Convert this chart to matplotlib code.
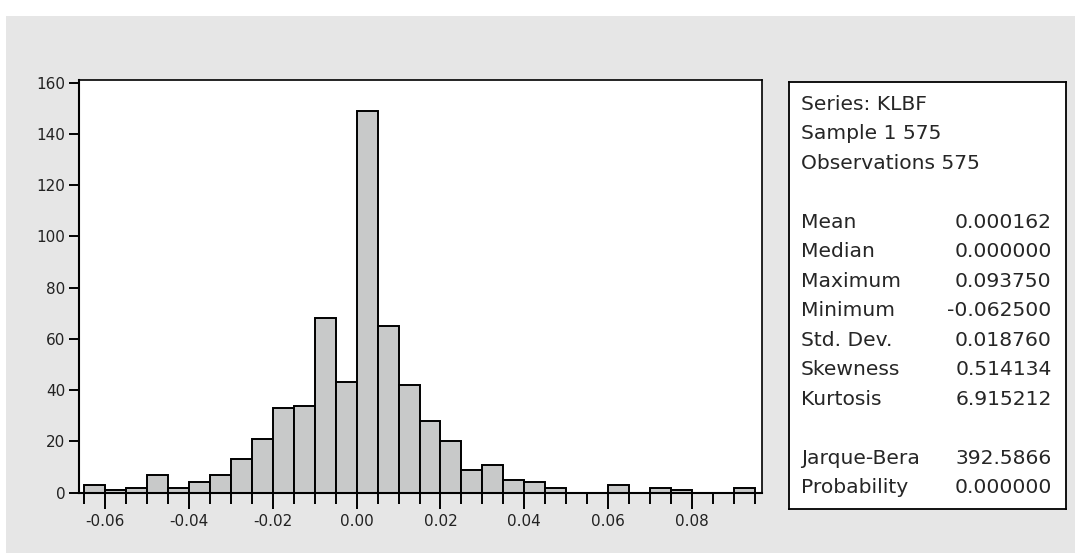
import matplotlib
matplotlib.use("Agg")
import matplotlib.pyplot as plt
from matplotlib.ticker import FixedLocator
from matplotlib.patches import Rectangle

# ---- data -------------------------------------------------------------
bin_left = [-0.065, -0.060, -0.055, -0.050, -0.045, -0.040, -0.035, -0.030,
            -0.025, -0.020, -0.015, -0.010, -0.005, 0.000, 0.005, 0.010,
            0.015, 0.020, 0.025, 0.030, 0.035, 0.040, 0.045, 0.050,
            0.055, 0.060, 0.065, 0.070, 0.075, 0.080, 0.085, 0.090]
counts = [3, 1, 2, 7, 2, 4, 7, 13,
          21, 33, 34, 68, 43, 149, 65, 42,
          28, 20, 9, 11, 5, 4, 2, 0,
          0, 3, 0, 2, 1, 0, 0, 2]
bin_width = 0.005
bin_edges = bin_left + [0.095]

x_major = [-0.06, -0.04, -0.02, 0.00, 0.02, 0.04, 0.06, 0.08]
x_major_labels = ["-0.06", "-0.04", "-0.02", "0.00", "0.02", "0.04", "0.06", "0.08"]
y_ticks = [0, 20, 40, 60, 80, 100, 120, 140, 160]

header_lines = ["Series: KLBF", "Sample 1 575", "Observations 575"]
stat_names = ["Mean", "Median", "Maximum", "Minimum", "Std. Dev.", "Skewness", "Kurtosis"]
stat_values = ["0.000162", "0.000000", "0.093750", "-0.062500", "0.018760", "0.514134", "6.915212"]
test_names = ["Jarque-Bera", "Probability"]
test_values = ["392.5866", "0.000000"]

# ---- figure -----------------------------------------------------------
W, H = 1075, 553
fig = plt.figure(figsize=(W / 100, H / 100), dpi=100)
fig.patch.set_facecolor("white")

def fx(px):
    return px / W

def fy(py):
    return 1 - py / H

# grey panel behind the chart (white margin at top and left)
fig.patches.append(Rectangle((fx(6), 0), 1 - fx(6), fy(16), transform=fig.transFigure,
                             facecolor="#e6e6e6", edgecolor="none", zorder=-10))

ax = fig.add_axes([fx(79.3), fy(492.7), fx(762.3) - fx(79.3), fy(80) - fy(492.7)])
ax.set_zorder(1)
ax.set_facecolor("white")
ax.bar(bin_left, counts, width=bin_width, align="edge",
       color="#c8c9c9", edgecolor="black", linewidth=1.4, zorder=2)

ax.set_xlim(-0.06624, 0.09686)
ax.set_ylim(0, 161)

ax.xaxis.set_major_locator(FixedLocator(x_major))
ax.set_xticklabels(x_major_labels)
ax.xaxis.set_minor_locator(FixedLocator(bin_edges))
ax.set_yticks(y_ticks)
ax.set_yticklabels([str(v) for v in y_ticks])

ax.tick_params(axis="x", which="major", direction="out", length=11.5, width=1.4,
               pad=4, labelsize=11, colors="black", labelcolor="#222222")
ax.tick_params(axis="x", which="minor", direction="out", length=7.6, width=1.4,
               colors="black")
ax.tick_params(axis="y", which="major", direction="out", length=7.2, width=1.4,
               pad=3, labelsize=11, colors="black", labelcolor="#222222")

for side in ["left", "bottom"]:
    ax.spines[side].set_linewidth(1.5)
for side in ["top", "right"]:
    ax.spines[side].set_linewidth(1.2)
for sp in ax.spines.values():
    sp.set_color("black")
    sp.set_zorder(3)

# ---- statistics box ---------------------------------------------------
box = fig.add_axes([fx(789), fy(509), fx(1065.7) - fx(789), fy(81.7) - fy(509)])
box.set_zorder(1)
box.set_facecolor("white")
box.set_xticks([])
box.set_yticks([])
for sp in box.spines.values():
    sp.set_linewidth(1.3)
    sp.set_color("black")

x_left = fx(800.7)
x_right = fx(1051.7)
line0 = 103.3
step = 29.48
font_kw = dict(fontsize=14.6, color="#262626", va="baseline", family="DejaVu Sans",
               zorder=5)

def line_y(k):
    return fy(line0 + step * k + 6.5)

for k, t in enumerate(header_lines):
    fig.text(x_left, line_y(k), t, ha="left", **font_kw)
for i, (n, v) in enumerate(zip(stat_names, stat_values)):
    k = 4 + i
    fig.text(x_left, line_y(k), n, ha="left", **font_kw)
    fig.text(x_right, line_y(k), v, ha="right", **font_kw)
for i, (n, v) in enumerate(zip(test_names, test_values)):
    k = 12 + i
    fig.text(x_left, line_y(k), n, ha="left", **font_kw)
    fig.text(x_right, line_y(k), v, ha="right", **font_kw)

fig.savefig("out.png", dpi=100, facecolor=fig.get_facecolor())
